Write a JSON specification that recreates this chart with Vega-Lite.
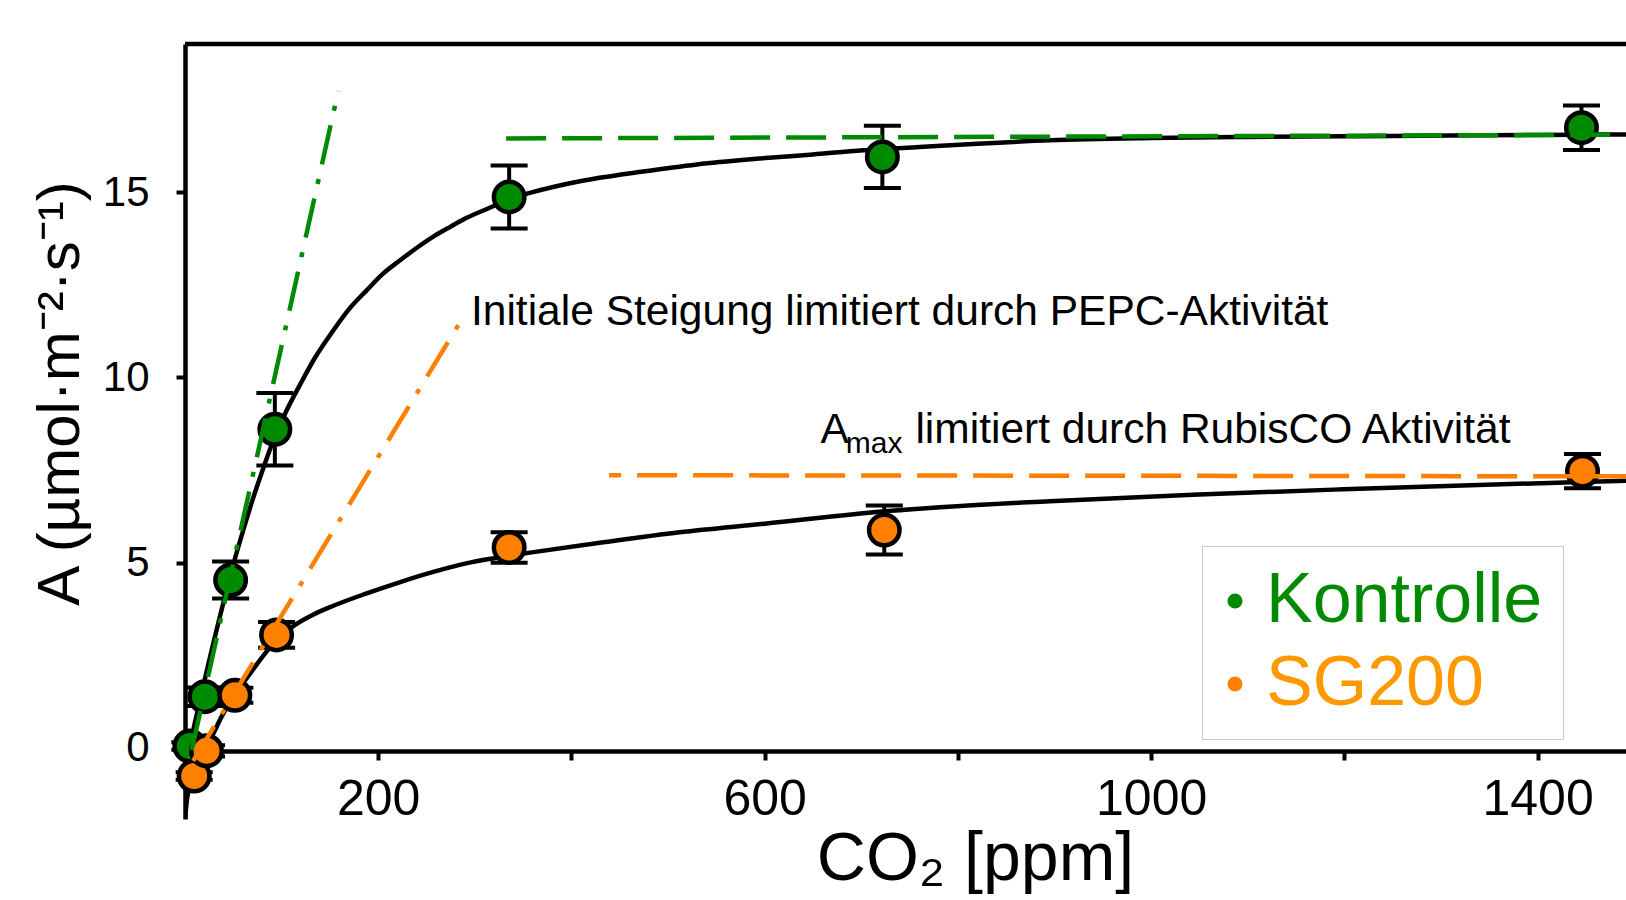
{
  "$schema": "https://vega.github.io/schema/vega-lite/v6.json",
  "width": 1441,
  "height": 775,
  "autosize": {"type": "none"},
  "padding": {"left": 185, "top": 44, "right": 0, "bottom": 81},
  "background": "white",
  "config": {"view": {"stroke": null}, "font": "Liberation Sans"},
  "datasets": {
    "points": [
      {"series": "Kontrolle", "x": 5, "A": 0.05, "err": 0.1},
      {"series": "Kontrolle", "x": 20.6, "A": 1.38, "err": 0.25},
      {"series": "Kontrolle", "x": 47.2, "A": 4.53, "err": 0.5},
      {"series": "Kontrolle", "x": 93, "A": 8.6, "err": 0.98},
      {"series": "Kontrolle", "x": 335.5, "A": 14.87, "err": 0.85},
      {"series": "Kontrolle", "x": 721.8, "A": 15.95, "err": 0.84},
      {"series": "Kontrolle", "x": 1445.4, "A": 16.74, "err": 0.6},
      {"series": "SG200", "x": 9.5, "A": -0.76, "err": 0.1},
      {"series": "SG200", "x": 22.3, "A": -0.08, "err": 0.15},
      {"series": "SG200", "x": 51.6, "A": 1.42, "err": 0.2},
      {"series": "SG200", "x": 94.8, "A": 3.05, "err": 0.35},
      {"series": "SG200", "x": 335.5, "A": 5.41, "err": 0.41},
      {"series": "SG200", "x": 723.8, "A": 5.88, "err": 0.66},
      {"series": "SG200", "x": 1446.5, "A": 7.47, "err": 0.46}
    ],
    "curves": [
      {"series": "Kontrolle", "x": 0, "A": -0.6},
      {"series": "Kontrolle", "x": 5, "A": 0.05},
      {"series": "Kontrolle", "x": 10, "A": 0.65},
      {"series": "Kontrolle", "x": 20, "A": 1.8},
      {"series": "Kontrolle", "x": 30, "A": 2.9},
      {"series": "Kontrolle", "x": 40, "A": 3.95},
      {"series": "Kontrolle", "x": 50, "A": 4.95},
      {"series": "Kontrolle", "x": 60, "A": 5.85},
      {"series": "Kontrolle", "x": 70, "A": 6.7},
      {"series": "Kontrolle", "x": 81, "A": 7.55},
      {"series": "Kontrolle", "x": 93, "A": 8.4},
      {"series": "Kontrolle", "x": 105, "A": 9.1},
      {"series": "Kontrolle", "x": 120, "A": 9.85},
      {"series": "Kontrolle", "x": 135, "A": 10.55},
      {"series": "Kontrolle", "x": 153, "A": 11.25},
      {"series": "Kontrolle", "x": 170, "A": 11.85},
      {"series": "Kontrolle", "x": 188, "A": 12.35},
      {"series": "Kontrolle", "x": 205, "A": 12.8},
      {"series": "Kontrolle", "x": 222, "A": 13.15},
      {"series": "Kontrolle", "x": 240, "A": 13.5},
      {"series": "Kontrolle", "x": 257, "A": 13.8},
      {"series": "Kontrolle", "x": 275, "A": 14.07},
      {"series": "Kontrolle", "x": 291, "A": 14.3},
      {"series": "Kontrolle", "x": 319, "A": 14.62},
      {"series": "Kontrolle", "x": 336, "A": 14.82},
      {"series": "Kontrolle", "x": 357, "A": 14.98},
      {"series": "Kontrolle", "x": 410, "A": 15.3},
      {"series": "Kontrolle", "x": 472, "A": 15.55},
      {"series": "Kontrolle", "x": 530, "A": 15.75},
      {"series": "Kontrolle", "x": 591, "A": 15.9},
      {"series": "Kontrolle", "x": 650, "A": 16.02},
      {"series": "Kontrolle", "x": 702, "A": 16.13},
      {"series": "Kontrolle", "x": 760, "A": 16.22},
      {"series": "Kontrolle", "x": 820, "A": 16.31},
      {"series": "Kontrolle", "x": 895, "A": 16.4},
      {"series": "Kontrolle", "x": 1000, "A": 16.46},
      {"series": "Kontrolle", "x": 1100, "A": 16.49},
      {"series": "Kontrolle", "x": 1200, "A": 16.51},
      {"series": "Kontrolle", "x": 1311, "A": 16.53},
      {"series": "Kontrolle", "x": 1443, "A": 16.55},
      {"series": "Kontrolle", "x": 1491.5, "A": 16.56},
      {"series": "SG200", "x": 0, "A": -1.95},
      {"series": "SG200", "x": 2, "A": -1.4},
      {"series": "SG200", "x": 5, "A": -1.05},
      {"series": "SG200", "x": 10, "A": -0.7},
      {"series": "SG200", "x": 16, "A": -0.35},
      {"series": "SG200", "x": 22, "A": 0.0},
      {"series": "SG200", "x": 30, "A": 0.42},
      {"series": "SG200", "x": 38, "A": 0.85},
      {"series": "SG200", "x": 52, "A": 1.45},
      {"series": "SG200", "x": 65, "A": 1.92},
      {"series": "SG200", "x": 85, "A": 2.62},
      {"series": "SG200", "x": 95, "A": 2.92},
      {"series": "SG200", "x": 105, "A": 3.15},
      {"series": "SG200", "x": 114, "A": 3.32},
      {"series": "SG200", "x": 133, "A": 3.6},
      {"series": "SG200", "x": 153, "A": 3.83},
      {"series": "SG200", "x": 188, "A": 4.17},
      {"series": "SG200", "x": 222, "A": 4.47},
      {"series": "SG200", "x": 257, "A": 4.75},
      {"series": "SG200", "x": 291, "A": 4.98},
      {"series": "SG200", "x": 320, "A": 5.12},
      {"series": "SG200", "x": 357, "A": 5.27},
      {"series": "SG200", "x": 433, "A": 5.55},
      {"series": "SG200", "x": 512, "A": 5.82},
      {"series": "SG200", "x": 600, "A": 6.05},
      {"series": "SG200", "x": 722, "A": 6.38},
      {"series": "SG200", "x": 895, "A": 6.66},
      {"series": "SG200", "x": 1050, "A": 6.84},
      {"series": "SG200", "x": 1199, "A": 6.98},
      {"series": "SG200", "x": 1446, "A": 7.18},
      {"series": "SG200", "x": 1491.5, "A": 7.21}
    ],
    "limits": [
      {"id": "green_dash", "x": 332.4, "A": 16.45},
      {"id": "green_dash", "x": 1491.5, "A": 16.55},
      {"id": "orange_dash", "x": 439, "A": 7.36},
      {"id": "orange_dash", "x": 1491.5, "A": 7.33},
      {"id": "green_dashdot", "x": 7, "A": -0.06},
      {"id": "green_dashdot", "x": 158.6, "A": 17.73},
      {"id": "orange_dashdot", "x": 8.5, "A": -0.35},
      {"id": "orange_dashdot", "x": 288, "A": 11.63}
    ],
    "notes": [
      {"part": "main", "x": 296, "A": 11.41, "text": "Initiale Steigung limitiert durch PEPC-Aktivität"},
      {"part": "main", "x": 657.9, "A": 8.22, "text": "A"},
      {"part": "sub", "x": 684, "A": 7.95, "text": "max"},
      {"part": "main", "x": 756, "A": 8.22, "text": "limitiert durch RubisCO Aktivität"}
    ]
  },
  "layer": [
    {
      "data": {"name": "curves"},
      "mark": {"type": "line", "color": "black", "strokeWidth": 4.5, "interpolate": "monotone", "clip": true},
      "encoding": {
        "x": {
          "field": "x", "type": "quantitative", "title": "CO₂ [ppm]",
          "scale": {"domain": [0, 1491.5], "nice": false, "zero": false},
          "axis": {
            "title": "CO₂ [ppm]",
            "values": [200, 400, 600, 800, 1000, 1200, 1400],
            "format": "d",
            "labelExpr": "datum.value % 400 == 200 ? datum.label : ''",
            "labelFontSize": 50,
            "labelColor": "black",
            "labelPadding": 14,
            "labelFlush": false,
            "labelOverlap": false,
            "tickSize": 9,
            "tickWidth": 4,
            "tickColor": "black",
            "domainColor": "black",
            "domainWidth": 4.5,
            "offset": -68,
            "grid": false,
            "titleFontSize": 68,
            "titleFontWeight": "normal",
            "titleColor": "black",
            "titleX": 790,
            "titleY": 128,
            "titleBaseline": "alphabetic",
            "titleAlign": "center"
          }
        },
        "y": {
          "field": "A", "type": "quantitative", "title": "A (µmol·m⁻²·s⁻¹)",
          "scale": {"domain": [-1.92, 19], "nice": false, "zero": false},
          "axis": {
            "title": "A (µmol·m⁻²·s⁻¹)",
            "values": [0, 5, 10, 15],
            "labelFontSize": 42,
            "labelColor": "black",
            "labelPadding": 27,
            "labelFlush": false,
            "labelOverlap": false,
            "tickSize": 9,
            "tickWidth": 4,
            "tickColor": "black",
            "domainColor": "black",
            "domainWidth": 4.5,
            "grid": false,
            "titleFontSize": 60,
            "titleFontWeight": "normal",
            "titleColor": "black",
            "titleX": -106.7,
            "titleY": 349,
            "titleAngle": 270,
            "titleBaseline": "alphabetic",
            "titleAlign": "center"
          }
        },
        "detail": {"field": "series", "type": "nominal"}
      }
    },
    {
      "data": {"name": "points"},
      "mark": {
        "type": "errorbar",
        "ticks": {"color": "black", "opacity": 1, "size": 37, "thickness": 4},
        "rule": {"color": "black", "opacity": 1, "strokeWidth": 4},
        "size": 37,
        "thickness": 4,
        "color": "black"
      },
      "encoding": {
        "x": {"field": "x", "type": "quantitative", "title": "CO₂ [ppm]", "scale": {"domain": [0, 1491.5], "nice": false, "zero": false}},
        "y": {"field": "A", "type": "quantitative", "title": "A (µmol·m⁻²·s⁻¹)", "scale": {"domain": [-1.92, 19], "nice": false, "zero": false}},
        "yError": {"field": "err"}
      }
    },
    {
      "data": {"name": "points"},
      "mark": {"type": "point", "filled": true, "shape": "circle", "size": 930, "stroke": "black", "strokeWidth": 4.5, "opacity": 1},
      "encoding": {
        "x": {"field": "x", "type": "quantitative", "title": "CO₂ [ppm]", "scale": {"domain": [0, 1491.5], "nice": false, "zero": false}},
        "y": {"field": "A", "type": "quantitative", "title": "A (µmol·m⁻²·s⁻¹)", "scale": {"domain": [-1.92, 19], "nice": false, "zero": false}},
        "fill": {
          "field": "series", "type": "nominal",
          "scale": {"domain": ["Kontrolle", "SG200"], "range": ["#008a00", "#ff8000"]},
          "legend": {
            "title": null,
            "orient": "none",
            "legendX": 1017,
            "legendY": 502,
            "padding": 20,
            "strokeColor": "#c8c8c8",
            "fillColor": "white",
            "labelFontSize": 70,
            "labelLimit": 600,
            "labelOffset": -4,
            "symbolOffset": -22,
            "rowPadding": 13,
            "symbolType": "circle",
            "symbolSize": 227,
            "symbolStrokeWidth": 0,
            "labelColor": {"expr": "datum.value === 'Kontrolle' ? '#008a00' : '#ff9900'"}
          }
        }
      }
    },
    {
      "data": {"name": "limits"},
      "transform": [{"filter": "datum.id === 'green_dash'"}],
      "mark": {"type": "line", "color": "#008a00", "strokeWidth": 4.5, "strokeDash": [40, 16], "clip": true},
      "encoding": {
        "x": {"field": "x", "type": "quantitative", "title": "CO₂ [ppm]", "scale": {"domain": [0, 1491.5], "nice": false, "zero": false}},
        "y": {"field": "A", "type": "quantitative", "title": "A (µmol·m⁻²·s⁻¹)", "scale": {"domain": [-1.92, 19], "nice": false, "zero": false}}
      }
    },
    {
      "data": {"name": "limits"},
      "transform": [{"filter": "datum.id === 'orange_dash'"}],
      "mark": {"type": "line", "color": "#ff8000", "strokeWidth": 4.5, "strokeDash": [40, 16], "strokeDashOffset": 28, "clip": true},
      "encoding": {
        "x": {"field": "x", "type": "quantitative", "title": "CO₂ [ppm]", "scale": {"domain": [0, 1491.5], "nice": false, "zero": false}},
        "y": {"field": "A", "type": "quantitative", "title": "A (µmol·m⁻²·s⁻¹)", "scale": {"domain": [-1.92, 19], "nice": false, "zero": false}}
      }
    },
    {
      "data": {"name": "limits"},
      "transform": [{"filter": "datum.id === 'green_dashdot'"}],
      "mark": {"type": "line", "color": "#008a00", "strokeWidth": 4.5, "strokeDash": [40, 15, 5, 15], "clip": true},
      "encoding": {
        "x": {"field": "x", "type": "quantitative", "title": "CO₂ [ppm]", "scale": {"domain": [0, 1491.5], "nice": false, "zero": false}},
        "y": {"field": "A", "type": "quantitative", "title": "A (µmol·m⁻²·s⁻¹)", "scale": {"domain": [-1.92, 19], "nice": false, "zero": false}}
      }
    },
    {
      "data": {"name": "limits"},
      "transform": [{"filter": "datum.id === 'orange_dashdot'"}],
      "mark": {"type": "line", "color": "#ff8000", "strokeWidth": 4.5, "strokeDash": [40, 15, 5, 15], "clip": true},
      "encoding": {
        "x": {"field": "x", "type": "quantitative", "title": "CO₂ [ppm]", "scale": {"domain": [0, 1491.5], "nice": false, "zero": false}},
        "y": {"field": "A", "type": "quantitative", "title": "A (µmol·m⁻²·s⁻¹)", "scale": {"domain": [-1.92, 19], "nice": false, "zero": false}}
      }
    },
    {
      "data": {"values": [{}]},
      "mark": {"type": "rule", "color": "black", "strokeWidth": 4.5},
      "encoding": {
        "y": {"datum": 19, "type": "quantitative", "title": "A (µmol·m⁻²·s⁻¹)", "scale": {"domain": [-1.92, 19], "nice": false, "zero": false}}
      }
    },
    {
      "data": {"name": "notes"},
      "transform": [{"filter": "datum.part === 'main'"}],
      "mark": {"type": "text", "align": "left", "baseline": "alphabetic", "fontSize": 42.5, "color": "black"},
      "encoding": {
        "x": {"field": "x", "type": "quantitative", "title": "CO₂ [ppm]", "scale": {"domain": [0, 1491.5], "nice": false, "zero": false}},
        "y": {"field": "A", "type": "quantitative", "title": "A (µmol·m⁻²·s⁻¹)", "scale": {"domain": [-1.92, 19], "nice": false, "zero": false}},
        "text": {"field": "text"}
      }
    },
    {
      "data": {"name": "notes"},
      "transform": [{"filter": "datum.part === 'sub'"}],
      "mark": {"type": "text", "align": "left", "baseline": "alphabetic", "fontSize": 30, "color": "black"},
      "encoding": {
        "x": {"field": "x", "type": "quantitative", "title": "CO₂ [ppm]", "scale": {"domain": [0, 1491.5], "nice": false, "zero": false}},
        "y": {"field": "A", "type": "quantitative", "title": "A (µmol·m⁻²·s⁻¹)", "scale": {"domain": [-1.92, 19], "nice": false, "zero": false}},
        "text": {"field": "text"}
      }
    }
  ]
}
